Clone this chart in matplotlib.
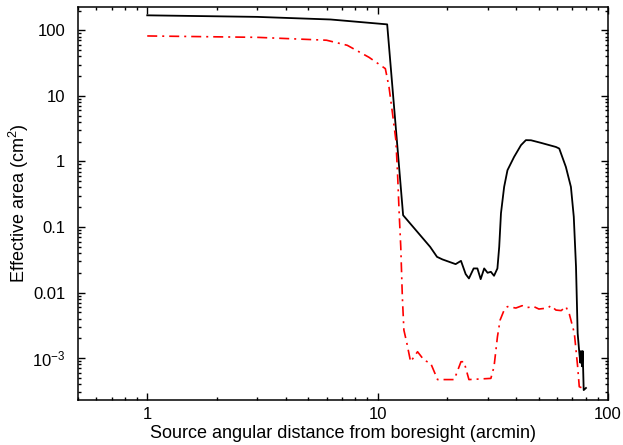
import numpy as np
import matplotlib
matplotlib.use("Agg")
import matplotlib.pyplot as plt
from matplotlib.ticker import FixedLocator, FixedFormatter, LogLocator, NullFormatter

# black curve (solid)
x_black = [1.0, 3.0, 6.25, 11.0, 12.9, 16.9, 18.1, 19.1, 21.8, 23.0, 24.1, 24.9,
           26.1, 27.1, 28.0, 29.0, 30.0, 31.0, 32.0, 33.1, 33.7, 34.3, 35.4, 36.6,
           39.1, 41.9, 44.0, 46.3, 51.1, 59.4, 61.4, 65.6, 69.0, 71.0, 72.6, 73.8,
           75.0, 75.8, 76.3, 77.1, 77.6, 78.4, 80.2]
y_black = [169, 160, 146, 123, 0.151, 0.0497, 0.035, 0.032, 0.0271, 0.0304, 0.0191, 0.0164,
           0.0233, 0.0233, 0.016, 0.0233, 0.020, 0.0207, 0.018, 0.0233, 0.0497, 0.162, 0.408, 0.734,
           1.17, 1.77, 2.11, 2.1, 1.92, 1.66, 1.57, 0.824, 0.408, 0.143, 0.0247, 0.0024,
           0.00123, 0.00085, 0.00128, 0.00075, 0.00128, 0.000325, 0.00035]

# red curve (dash-dot)
x_red = [1.0, 3.0, 6.0, 7.38, 9.17, 10.8, 11.2, 11.6, 12.0, 12.2, 12.4, 12.6, 12.8,
         13.0, 13.4, 13.9, 14.9, 15.9, 17.0, 18.2, 21.5, 23.0, 23.7, 24.9, 31.0, 32.0,
         33.1, 34.0, 35.4, 36.6, 39.8, 42.4, 44.6, 47.6, 50.1, 54.7, 56.5, 59.4, 62.6,
         65.6, 67.9, 69.0, 71.4, 73.8, 75.0, 77.6]
y_red = [81.9, 78, 70.5, 59, 38.7, 26, 13.7, 5.4, 2.1, 0.66, 0.162, 0.0497, 0.0086,
         0.00267, 0.00167, 0.00088, 0.00125, 0.00093, 0.00083, 0.00047, 0.00047, 0.00088, 0.00088, 0.00047, 0.00049, 0.00074,
         0.0021, 0.0038, 0.0054, 0.0061, 0.0058, 0.0063, 0.0059, 0.0061, 0.0056, 0.0058, 0.0063, 0.0054, 0.0053,
         0.0061, 0.0047, 0.0038, 0.0024, 0.00074, 0.000366, 0.000347]

y_ticks = [1e-3, 1e-2, 1e-1, 1, 10, 100]
y_ticklabels = [r'$10^{-3}$', '0.01', '0.1', '1', '10', '100']
x_ticks = [1, 10, 100]
x_ticklabels = ['1', '10', '100']

plt.rcParams['font.family'] = ['Liberation Sans', 'DejaVu Sans']
plt.rcParams['mathtext.fontset'] = 'custom'
plt.rcParams['mathtext.rm'] = 'Liberation Sans'
plt.rcParams['mathtext.it'] = 'Liberation Sans'
plt.rcParams['mathtext.default'] = 'regular'

fig = plt.figure(figsize=(6.23, 4.45), dpi=100)
ax = fig.add_axes([0.125, 0.101, 0.851, 0.884])

ax.plot(x_black, y_black, color='black', lw=1.3)
ax.plot(x_red, y_red, color='red', lw=1.2, linestyle=(0, (6, 3, 1.2, 3)))

ax.set_xscale('log')
ax.set_yscale('log')
ax.set_xlim(0.5, 100)
ax.set_ylim(2.29e-4, 229)

ax.xaxis.set_major_locator(FixedLocator(x_ticks))
ax.xaxis.set_major_formatter(FixedFormatter(x_ticklabels))
ax.xaxis.set_minor_locator(LogLocator(base=10, subs=np.arange(2, 10)))
ax.xaxis.set_minor_formatter(NullFormatter())
ax.yaxis.set_major_locator(FixedLocator(y_ticks))
ax.yaxis.set_major_formatter(FixedFormatter(y_ticklabels))
ax.yaxis.set_minor_locator(LogLocator(base=10, subs=np.arange(2, 10)))
ax.yaxis.set_minor_formatter(NullFormatter())

ax.tick_params(which='both', direction='in', top=True, right=True, width=1.0)
ax.tick_params(which='major', length=5, labelsize=12)
ax.tick_params(axis='x', which='major', pad=5)
ax.tick_params(axis='y', which='major', pad=9)
ax.tick_params(which='minor', length=2.5)
for s in ax.spines.values():
    s.set_linewidth(1.1)

ax.set_xlabel('Source angular distance from boresight (arcmin)', fontsize=13, labelpad=2)
ax.set_ylabel('Effective area (cm$^2$)', fontsize=13, labelpad=1)

fig.savefig('out.png', dpi=100)
